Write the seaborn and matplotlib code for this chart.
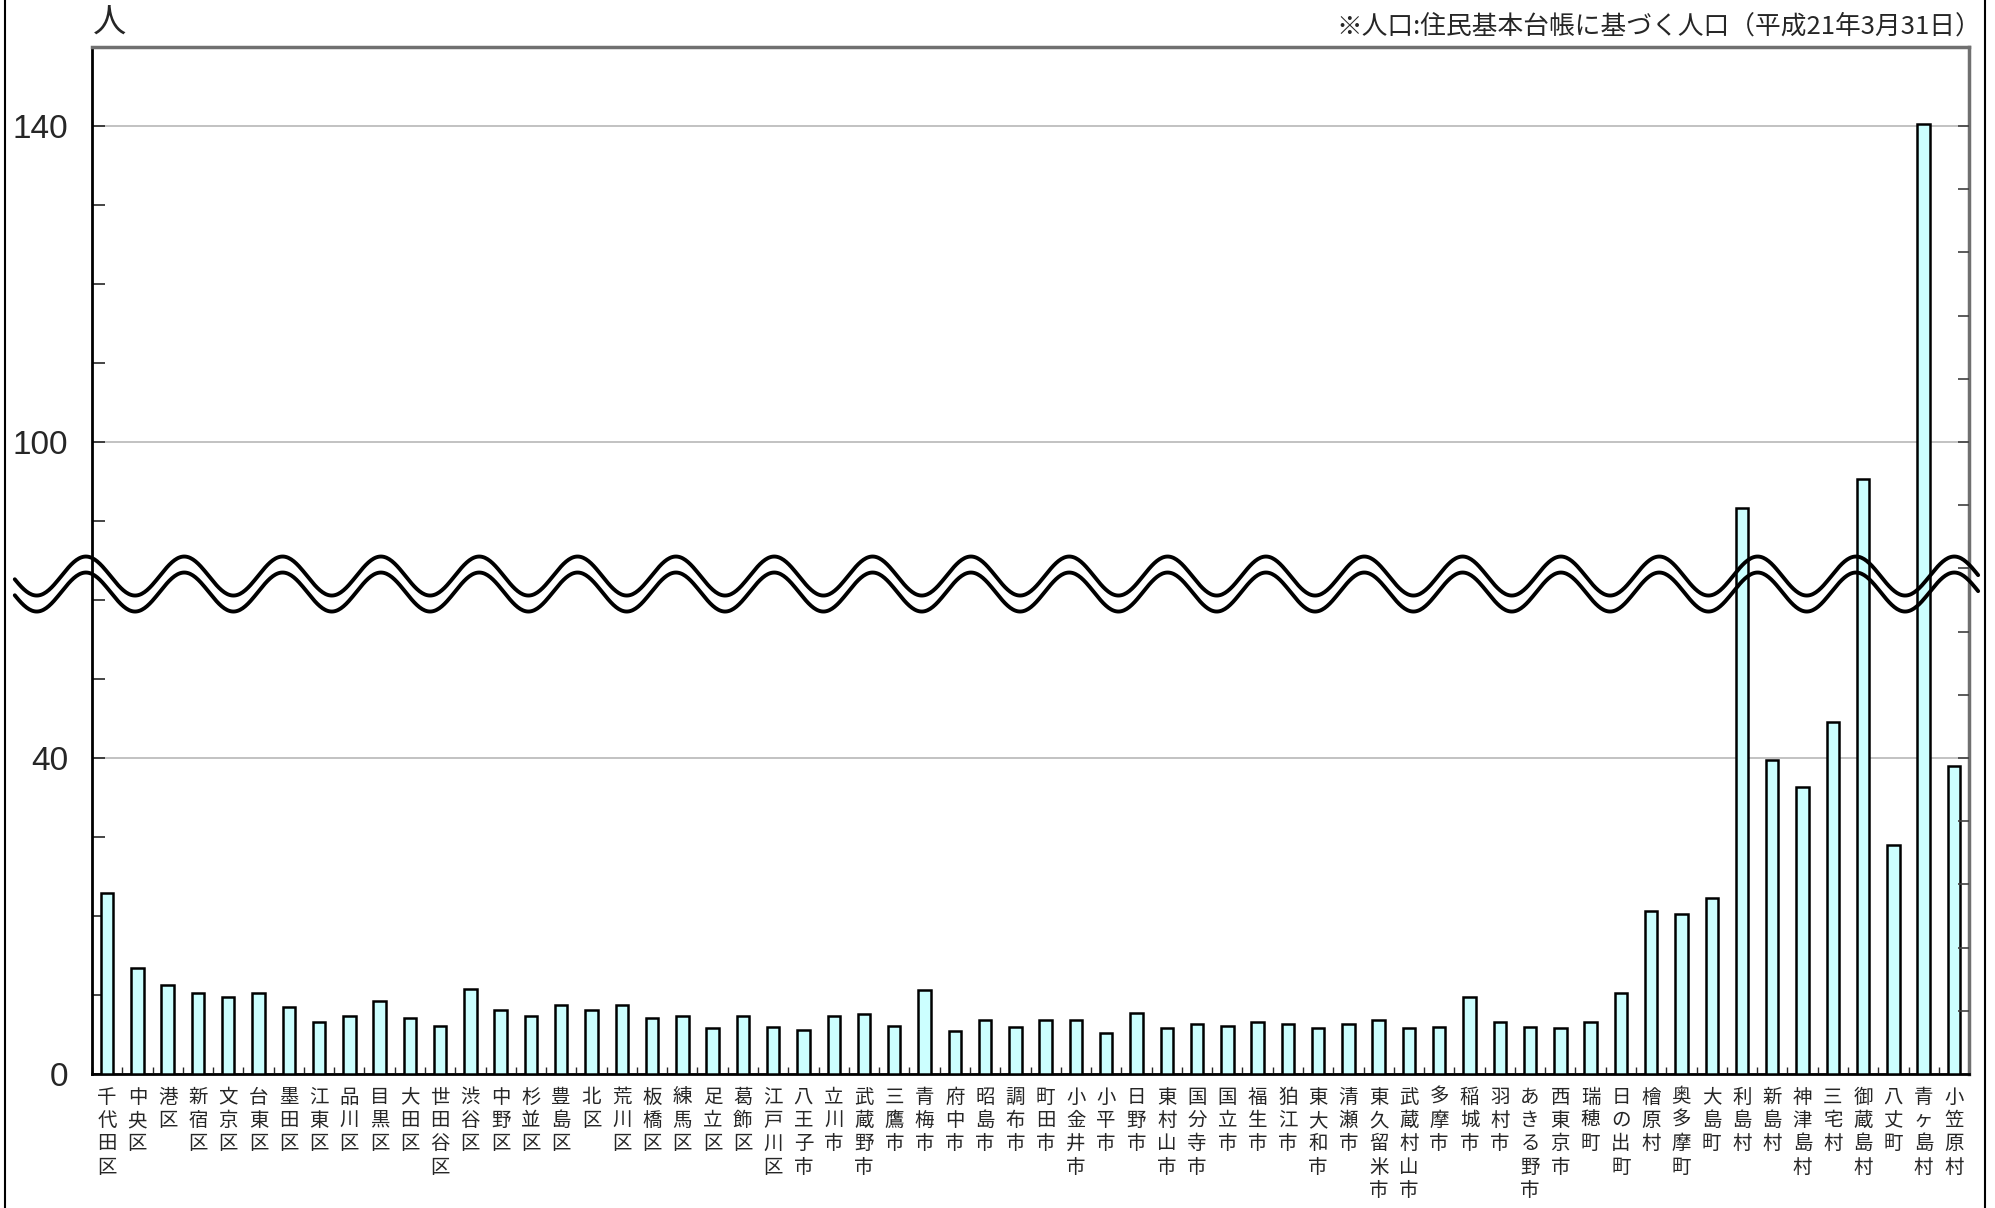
import numpy as np
import pandas as pd
import seaborn as sns
import matplotlib.pyplot as plt
from matplotlib.lines import Line2D
from matplotlib.ticker import FixedLocator, NullFormatter
from matplotlib.transforms import blended_transform_factory

sns.set_style("white")
plt.rcParams['font.family'] = ['Noto Sans CJK JP', 'DejaVu Sans']

# 人口千人あたり (人)
names = ["千代田区", "中央区", "港区", "新宿区", "文京区", "台東区", "墨田区", "江東区",
         "品川区", "目黒区", "大田区", "世田谷区", "渋谷区", "中野区", "杉並区", "豊島区",
         "北区", "荒川区", "板橋区", "練馬区", "足立区", "葛飾区", "江戸川区", "八王子市",
         "立川市", "武蔵野市", "三鷹市", "青梅市", "府中市", "昭島市", "調布市", "町田市",
         "小金井市", "小平市", "日野市", "東村山市", "国分寺市", "国立市", "福生市", "狛江市",
         "東大和市", "清瀬市", "東久留米市", "武蔵村山市", "多摩市", "稲城市", "羽村市",
         "あきる野市", "西東京市", "瑞穂町", "日の出町", "檜原村", "奥多摩町", "大島町",
         "利島村", "新島村", "神津島村", "三宅村", "御蔵島村", "八丈町", "青ヶ島村", "小笠原村"]
values = [22.9, 13.4, 11.3, 10.2, 9.8, 10.2, 8.5, 6.6,
          7.4, 9.2, 7.1, 6.1, 10.8, 8.1, 7.3, 8.7,
          8.1, 8.7, 7.1, 7.3, 5.8, 7.3, 6.0, 5.6,
          7.3, 7.6, 6.1, 10.6, 5.5, 6.8, 6.0, 6.9,
          6.9, 5.2, 7.7, 5.8, 6.3, 6.1, 6.6, 6.3,
          5.8, 6.3, 6.8, 5.8, 6.0, 9.7, 6.6,
          6.0, 5.8, 6.6, 10.2, 20.6, 20.2, 22.3,
          91.6, 39.7, 36.3, 44.5, 95.3, 29.0, 140.3, 39.0]

major_ticks = [0, 40, 100, 140]
minor_ticks = [10, 20, 30, 50, 60, 90, 110, 120, 130]
right_ticks = [8, 16, 24, 32, 40, 48, 56, 84, 92, 100, 108, 116, 124, 132, 140]
note = "※人口:住民基本台帳に基づく人口（平成21年3月31日）"

# broken axis: 62..82 is cut out
BREAK, GAP = 62, 20
def fwd(v):
    v = np.asarray(v, dtype=float)
    return np.where(v <= BREAK, v, np.maximum(v - GAP, BREAK))
def inv(d):
    d = np.asarray(d, dtype=float)
    return np.where(d <= BREAK, d, d + GAP)

df = pd.DataFrame({"name": names, "value": values})

fig = plt.figure(figsize=(19.95, 12.08), dpi=100)
ax = fig.add_axes([0.0461, 0.1109, 0.9409, 0.8502])

sns.barplot(data=df, x="name", y="value", color="#CCFFFF", saturation=1,
            edgecolor="black", linewidth=1.8, width=0.41, ax=ax, zorder=3)

ax.set_yscale("function", functions=(fwd, inv))
ax.set_ylim(0, 150)
ax.set_xlim(-0.5, len(names) - 0.5)
ax.set_xlabel("")
ax.set_ylabel("")

ax.yaxis.set_major_locator(FixedLocator(major_ticks))
ax.yaxis.set_minor_locator(FixedLocator(minor_ticks))
ax.yaxis.set_minor_formatter(NullFormatter())
ax.set_yticklabels([str(t) for t in major_ticks], family=['Liberation Sans'], fontsize=24)
ax.tick_params(axis='y', which='both', direction='in', length=9, width=1.2, pad=17)
ax.yaxis.grid(True, which='major', color='#b8b8b8', linewidth=1.2, zorder=0)

ax.set_xticks(range(len(names)))
ax.set_xticklabels(["\n".join(n) for n in names], fontsize=14, linespacing=1.15, va='top')
ax.xaxis.set_minor_locator(FixedLocator(np.arange(-0.5, len(names), 1.0)))
ax.tick_params(axis='x', which='major', length=0, pad=9)
ax.tick_params(axis='x', which='minor', direction='in', length=5, width=1, bottom=True)

for side in ['left', 'bottom']:
    ax.spines[side].set_color('black')
    ax.spines[side].set_linewidth(2)
for side in ['top', 'right']:
    ax.spines[side].set_color('#707070')
    ax.spines[side].set_linewidth(2.5)

# right axis ticks
ax2 = ax.twinx()
ax2.set_yscale("function", functions=(fwd, inv))
ax2.set_ylim(0, 150)
ax2.yaxis.set_major_locator(FixedLocator(right_ticks))
ax2.yaxis.set_major_formatter(NullFormatter())
ax2.yaxis.set_minor_locator(FixedLocator([]))
ax2.tick_params(axis='y', direction='in', length=8, width=1.2, colors='#404040')
for s in ax2.spines.values():
    s.set_visible(False)

# wavy break marks
tr = blended_transform_factory(ax.transData, ax.transAxes)
wx = np.linspace(-3.05, 61.8, 1500)
phase = np.cos(2 * np.pi * (wx + 0.70) / 3.248)
h = 0.8502 * 1208
for c_px in (498, 482):
    ax.plot(wx, (c_px + 19.5 * phase) / h, color='black', lw=2.8, transform=tr,
            clip_on=False, zorder=5)

fig.text(0.0551, 0.981, "人", fontsize=24, ha='center', va='center')
fig.text(0.993, 0.978, note, fontsize=18.5, ha='right', va='center')

# outer frame (left / right)
fig.add_artist(Line2D([0.0025, 0.0025], [0, 1], color='black', lw=1.5, transform=fig.transFigure))
fig.add_artist(Line2D([0.995, 0.995], [0, 1], color='black', lw=1.5, transform=fig.transFigure))

fig.savefig("out.png", dpi=100)
